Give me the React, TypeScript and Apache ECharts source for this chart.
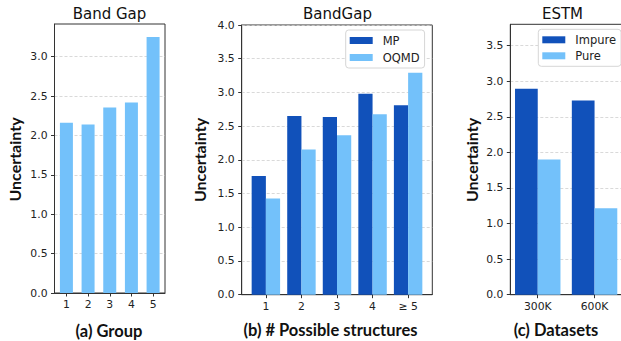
import React, { useEffect, useRef } from "react";
import * as echarts from "echarts";

// ---- data ----
const groupCats = ["1", "2", "3", "4", "5"];
const groupVals = [2.16, 2.14, 2.355, 2.42, 3.25];

const structCats = ["1", "2", "3", "4", "≥ 5"];
const mpVals = [1.76, 2.65, 2.635, 2.98, 2.81];
const oqmdVals = [1.425, 2.155, 2.365, 2.675, 3.29];

const dataCats = ["300K", "600K"];
const impureVals = [2.895, 2.73];
const pureVals = [1.9, 1.215];

const yTicksA = [0, 0.5, 1, 1.5, 2, 2.5, 3];
const yTicksB = [0, 0.5, 1, 1.5, 2, 2.5, 3, 3.5, 4];
const yTicksC = [0, 0.5, 1, 1.5, 2, 2.5, 3, 3.5];

const DARK = "#1151BA";
const LIGHT = "#73C1FA";
const TICK_FONT = "DejaVu Sans";
const LABEL_FONT = "Lato";

const toPairs = (vals: number[]) => vals.map((v, i) => [i, v]);

function xAxisFor(gridIndex: number, cats: string[], min: number, max: number) {
  const idx = cats.map((_, i) => i);
  return {
    type: "value",
    gridIndex,
    min,
    max,
    axisLine: { show: true, onZero: false, lineStyle: { color: "#333", width: 1 } },
    axisTick: { show: true, length: 3.5, customValues: idx, lineStyle: { color: "#333", width: 1 } },
    axisLabel: {
      customValues: idx,
      margin: 6,
      fontFamily: TICK_FONT,
      fontSize: 10.8,
      color: "#222",
      formatter: (v: number) => cats[Math.round(v)] ?? "",
    },
    splitLine: { show: false },
  };
}

function yAxisFor(gridIndex: number, max: number, ticks: number[]) {
  return {
    type: "value",
    gridIndex,
    min: 0,
    max,
    interval: 0.5,
    axisLine: { show: true, onZero: false, lineStyle: { color: "#333", width: 1 } },
    axisTick: { show: true, length: 3.5, customValues: ticks, lineStyle: { color: "#333", width: 1 } },
    axisLabel: {
      customValues: ticks,
      margin: 7,
      fontFamily: TICK_FONT,
      fontSize: 10.8,
      color: "#222",
      formatter: (v: number) =>
        Math.abs(v * 2 - Math.round(v * 2)) < 1e-6 ? v.toFixed(1) : "",
    },
    splitLine: { show: true, lineStyle: { color: "#cfcfcf", width: 0.8, type: [3, 2] } },
  };
}

function legendFor(names: string[], left: number, top: number, gap: number) {
  return {
    data: names,
    orient: "vertical",
    left,
    top,
    padding: [4, 5, 4, 4],
    itemWidth: 23,
    itemHeight: 7,
    itemGap: gap,
    icon: "rect",
    backgroundColor: "#fff",
    borderColor: "#d6d6d6",
    borderWidth: 1,
    borderRadius: 3,
    textStyle: {
      fontFamily: TICK_FONT,
      fontSize: 11.5,
      fontWeight: "normal",
      color: "#222",
      lineHeight: 13,
      padding: [0, 0, 0, 5],
    },
  };
}

function textEl(text: string, x: number, y: number, o: any) {
  return {
    type: "text",
    x,
    y,
    rotation: o.rotation || 0,
    style: {
      text,
      fill: "#111",
      fontFamily: o.family,
      fontSize: o.size,
      fontWeight: o.weight || "normal",
      textAlign: "center",
      textVerticalAlign: "middle",
    },
  };
}

export default function App() {
  const ref = useRef<HTMLDivElement>(null);
  useEffect(() => {
    if (!ref.current) return;
    const chart = echarts.init(ref.current, undefined, { renderer: "svg" });
    const gridBase = {
      show: true,
      borderColor: "#333",
      borderWidth: 1,
      backgroundColor: "transparent",
      containLabel: false,
      outerBoundsMode: "none",
    };
    const title = { family: TICK_FONT, size: 15 };
    const name = { family: LABEL_FONT, size: 16.5, weight: "bold" };
    const vname = { ...name, size: 16, rotation: Math.PI / 2 };
    const option: any = {
      animation: false,
      backgroundColor: "#fff",
      grid: [
        { ...gridBase, left: 54.5, top: 24, width: 110.5, height: 269 },
        { ...gridBase, left: 241.7, top: 25, width: 190.6, height: 269.7 },
        { ...gridBase, left: 510.3, top: 24.3, width: 111.7, height: 270.4 },
      ],
      xAxis: [
        xAxisFor(0, groupCats, -0.55, 4.55),
        xAxisFor(1, structCats, -0.68, 4.68),
        xAxisFor(2, dataCats, -0.483, 1.483),
      ],
      yAxis: [
        yAxisFor(0, 3.415, yTicksA),
        yAxisFor(1, 4.0, yTicksB),
        yAxisFor(2, 3.8, yTicksC),
      ],
      legend: [
        legendFor(["MP", "OQMD"], 345.7, 30, 4),
        legendFor(["Impure", "Pure"], 538.3, 29.3, 3),
      ],
      series: [
        {
          name: "Group",
          type: "bar",
          xAxisIndex: 0,
          yAxisIndex: 0,
          data: toPairs(groupVals),
          barWidth: "60%",
          itemStyle: { color: LIGHT },
        },
        {
          name: "MP",
          type: "bar",
          xAxisIndex: 1,
          yAxisIndex: 1,
          data: toPairs(mpVals),
          barWidth: "40%",
          barGap: "0%",
          itemStyle: { color: DARK },
        },
        {
          name: "OQMD",
          type: "bar",
          xAxisIndex: 1,
          yAxisIndex: 1,
          data: toPairs(oqmdVals),
          barWidth: "40%",
          barGap: "0%",
          itemStyle: { color: LIGHT },
        },
        {
          name: "Impure",
          type: "bar",
          xAxisIndex: 2,
          yAxisIndex: 2,
          data: toPairs(impureVals),
          barWidth: "40%",
          barGap: "0%",
          itemStyle: { color: DARK },
        },
        {
          name: "Pure",
          type: "bar",
          xAxisIndex: 2,
          yAxisIndex: 2,
          data: toPairs(pureVals),
          barWidth: "40%",
          barGap: "0%",
          itemStyle: { color: LIGHT },
        },
      ],
      graphic: [
        textEl("Band Gap", 109.5, 13.5, title),
        textEl("BandGap", 337.5, 13.5, title),
        textEl("ESTM", 562.5, 13.5, title),
        textEl("Uncertainty", 14, 159.5, vname),
        textEl("Uncertainty", 199, 160, vname),
        textEl("Uncertainty", 471, 160, vname),
        textEl("(a) Group", 109, 331, name),
        textEl("(b) # Possible structures", 330.5, 330, name),
        textEl("(c) Datasets", 556, 330, name),
      ],
    };
    chart.setOption(option);
    return () => chart.dispose();
  }, []);
  return (
    <div
      ref={ref}
      style={{ position: "fixed", left: 0, top: 0, width: 621, height: 341 }}
    />
  );
}
